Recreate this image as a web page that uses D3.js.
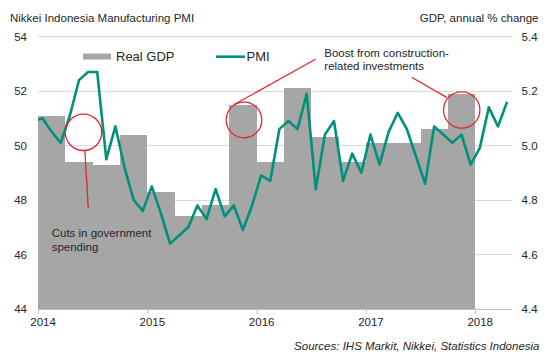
<!DOCTYPE html>
<html>
<head>
<meta charset="utf-8">
<script src="https://cdn.jsdelivr.net/npm/d3@7"></script>
<style>
  html, body { margin: 0; padding: 0; background: #fff; }
  svg { display: block; font-family: "Liberation Sans", Arial, sans-serif; }
</style>
</head>
<body>
<div id="chart"></div>
<script>
// ---- Data ----
const pmiMonths = [
  "2013-12",
  "2014-01","2014-02","2014-03","2014-04","2014-05","2014-06","2014-07","2014-08","2014-09","2014-10","2014-11","2014-12",
  "2015-01","2015-02","2015-03","2015-04","2015-05","2015-06","2015-07","2015-08","2015-09","2015-10","2015-11","2015-12",
  "2016-01","2016-02","2016-03","2016-04","2016-05","2016-06","2016-07","2016-08","2016-09","2016-10","2016-11","2016-12",
  "2017-01","2017-02","2017-03","2017-04","2017-05","2017-06","2017-07","2017-08","2017-09","2017-10","2017-11","2017-12",
  "2018-01","2018-02","2018-03","2018-04"
];
const pmiValues = [
  50.9,
  51.0, 50.5, 50.1, 51.1, 52.4, 52.7, 52.7, 49.5, 50.7, 49.2, 48.0, 47.6,
  48.5, 47.5, 46.4, 46.7, 47.0, 47.8, 47.3, 48.4, 47.4, 47.8, 46.9, 47.8,
  48.9, 48.7, 50.6, 50.9, 50.6, 51.9, 48.4, 50.4, 50.9, 48.7, 49.7, 49.0,
  50.4, 49.3, 50.5, 51.2, 50.6, 49.6, 48.6, 50.7, 50.4, 50.1, 50.4, 49.3,
  49.9, 51.4, 50.7, 51.6
];
const gdpQuarters = [
  "2014Q1","2014Q2","2014Q3","2014Q4",
  "2015Q1","2015Q2","2015Q3","2015Q4",
  "2016Q1","2016Q2","2016Q3","2016Q4",
  "2017Q1","2017Q2","2017Q3","2017Q4"
];
const gdpValues = [
  5.11, 4.94, 4.93, 5.04,
  4.83, 4.74, 4.78, 5.15,
  4.94, 5.21, 5.03, 4.94,
  5.01, 5.01, 5.06, 5.19
];
const yearTicks = [2014, 2015, 2016, 2017, 2018];
const leftTicks = [44, 46, 48, 50, 52, 54];
const rightTicks = [4.4, 4.6, 4.8, 5.0, 5.2, 5.4];

// ---- Helpers ----
const baseYear = 2014;
function monthIndex(s) { const [y, m] = s.split("-").map(Number); return (y - baseYear) * 12 + (m - 1); }
function quarterStart(s) { const y = +s.slice(0, 4), q = +s.slice(5); return (y - baseYear) * 12 + (q - 1) * 3; }

const W = 550, H = 357;
const plot = { left: 38, right: 511.6, top: 36.5, bottom: 309 };

const x = d3.scaleLinear().domain([0, 52]).range([plot.left, plot.right]);
const yL = d3.scaleLinear().domain([44, 54]).range([plot.bottom, plot.top]);
const yR = d3.scaleLinear().domain([4.4, 5.4]).range([plot.bottom, plot.top]);

const svg = d3.select("#chart").append("svg").attr("width", W).attr("height", H);

const textColor = "#262626";
const fs = "11.5px";

// gridlines
svg.append("g").selectAll("line").data(leftTicks.filter(d => d !== 44)).join("line")
  .attr("x1", plot.left).attr("x2", plot.right)
  .attr("y1", d => yL(d)).attr("y2", d => yL(d))
  .attr("stroke", "#d9d9d9").attr("stroke-width", 1)
  .attr("shape-rendering", "crispEdges");

// GDP bars
svg.append("g").selectAll("rect").data(gdpQuarters).join("rect")
  .attr("x", (d) => x(quarterStart(d)))
  .attr("width", (d) => x(quarterStart(d) + 3) - x(quarterStart(d)))
  .attr("y", (d, i) => yR(gdpValues[i]))
  .attr("height", (d, i) => yR(4.4) - yR(gdpValues[i]))
  .attr("fill", "#a6a6a6")
  .attr("shape-rendering", "crispEdges");

// x axis
const xAxis = d3.axisBottom(x)
  .tickValues(yearTicks.map(y => (y - baseYear) * 12))
  .tickFormat(d => String(baseYear + d / 12))
  .tickSize(5).tickSizeOuter(0).tickPadding(4);
const gx = svg.append("g").attr("transform", `translate(0,${plot.bottom})`).call(xAxis);
gx.select(".domain").attr("stroke", "#bfbfbf");
gx.selectAll(".tick line").attr("stroke", "#bfbfbf");
gx.selectAll(".tick text")
  .attr("dx", (x(1) - x(0)) / 2)
  .attr("fill", textColor).style("font-size", fs).style("font-family", "Liberation Sans, Arial, sans-serif");

// left axis
const gl = svg.append("g").attr("transform", `translate(${plot.left},0)`)
  .call(d3.axisLeft(yL).tickValues(leftTicks).tickSize(0).tickPadding(11));
gl.select(".domain").remove();
gl.selectAll(".tick text").attr("fill", textColor).style("font-size", fs).style("font-family", "Liberation Sans, Arial, sans-serif");

// right axis
const gr = svg.append("g").attr("transform", `translate(${plot.right},0)`)
  .call(d3.axisRight(yR).tickValues(rightTicks).tickFormat(d3.format(".1f")).tickSize(0).tickPadding(10));
gr.select(".domain").remove();
gr.selectAll(".tick text").attr("fill", textColor).style("font-size", fs).style("font-family", "Liberation Sans, Arial, sans-serif");

// PMI line (clipped to plot area)
svg.append("clipPath").attr("id", "clip").append("rect")
  .attr("x", plot.left).attr("y", 0).attr("width", plot.right - plot.left).attr("height", H);
const line = d3.line()
  .x((d, i) => x(monthIndex(pmiMonths[i]) + 0.5))
  .y(d => yL(d));
svg.append("path").datum(pmiValues)
  .attr("clip-path", "url(#clip)")
  .attr("d", line)
  .attr("fill", "none")
  .attr("stroke", "#00907c")
  .attr("stroke-width", 2.6)
  .attr("stroke-linejoin", "round");

// titles
svg.append("text").attr("x", 10).attr("y", 21.5).attr("fill", textColor).style("font-size", fs)
  .text("Nikkei Indonesia Manufacturing PMI");
svg.append("text").attr("x", 538.5).attr("y", 21.5).attr("text-anchor", "end").attr("fill", textColor).style("font-size", fs)
  .text("GDP, annual % change");

// legend
svg.append("rect").attr("x", 83).attr("y", 53.5).attr("width", 28).attr("height", 6).attr("fill", "#a6a6a6");
svg.append("text").attr("x", 116).attr("y", 61).attr("fill", textColor).style("font-size", "13px").text("Real GDP");
svg.append("line").attr("x1", 216).attr("x2", 245).attr("y1", 56.7).attr("y2", 56.7)
  .attr("stroke", "#00907c").attr("stroke-width", 2.6);
svg.append("text").attr("x", 246.5).attr("y", 61).attr("fill", textColor).style("font-size", "13px").text("PMI");

// annotations
const red = "#e3262d";
const ann = svg.append("g").attr("fill", "none").attr("stroke", red).attr("stroke-width", 1.3);
ann.append("circle").attr("cx", 83.5).attr("cy", 132.3).attr("r", 18.2);
ann.append("line").attr("x1", 84.8).attr("y1", 150.5).attr("x2", 88.3).attr("y2", 208.3);
ann.append("circle").attr("cx", 244).attr("cy", 120).attr("r", 17.8);
ann.append("line").attr("x1", 233.3).attr("y1", 105).attr("x2", 315.5).attr("y2", 59.3);
ann.append("circle").attr("cx", 461.7).attr("cy", 110).attr("r", 18.2);
ann.append("line").attr("x1", 411.7).attr("y1", 77.2).attr("x2", 447).attr("y2", 97.6);

const t1 = svg.append("text").attr("fill", textColor).style("font-size", fs);
t1.append("tspan").attr("x", 51.7).attr("y", 236.5).text("Cuts in government");
t1.append("tspan").attr("x", 51.7).attr("y", 250.5).text("spending");

const t2 = svg.append("text").attr("fill", textColor).style("font-size", fs);
t2.append("tspan").attr("x", 324.3).attr("y", 57.3).text("Boost from construction-");
t2.append("tspan").attr("x", 324.3).attr("y", 70.3).text("related investments");

// source
svg.append("text").attr("x", 539.5).attr("y", 350).attr("text-anchor", "end")
  .attr("fill", textColor).style("font-size", fs).style("font-style", "italic")
  .text("Sources: IHS Markit, Nikkei, Statistics Indonesia");
</script>
</body>
</html>
